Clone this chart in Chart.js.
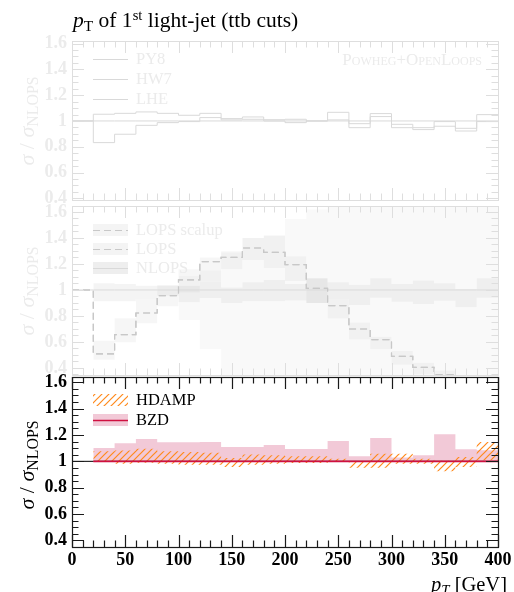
<!DOCTYPE html>
<html><head><meta charset="utf-8">
<script src="https://cdn.jsdelivr.net/npm/chart.js@4.4.1/dist/chart.umd.min.js"></script>
<style>
html,body{margin:0;padding:0;background:#fff;}
#wrap{position:relative;width:514px;height:592px;overflow:hidden;font-family:"Liberation Serif",serif;color:#000;}
canvas{position:absolute;left:0;}
.t{position:absolute;white-space:nowrap;line-height:1;transform:translateY(-50%);}
.sb{font-size:0.72em;position:relative;top:0.28em;}
.sp{font-size:0.68em;position:relative;top:-0.5em;}
.yt{position:absolute;white-space:nowrap;line-height:1;transform:translate(-50%,-50%) rotate(-90deg);font-size:22px;}
.f{color:#ebebeb;}
.sc{font-variant:small-caps;}
</style></head><body>
<div id="wrap">
<canvas id="c1" width="514" height="212" style="top:0px"></canvas>
<canvas id="c2" width="514" height="185" style="top:196px"></canvas>
<canvas id="c3" width="514" height="222" style="top:370px"></canvas>

<div class="t" style="left:73px;top:21px;font-size:21.5px"><i>p</i><span class="sb">T</span> of 1<span class="sp">st</span> light-jet (ttb cuts)</div>

<div class="yt f" style="left:27px;top:121px"><i>σ</i> / <i>σ</i><span class="sb">NLOPS</span></div>
<div class="yt f" style="left:27px;top:291px"><i>σ</i> / <i>σ</i><span class="sb">NLOPS</span></div>
<div class="yt" style="left:27px;top:465px"><i>σ</i> / <i>σ</i><span class="sb">NLOPS</span></div>

<div class="t f" style="left:136px;top:58.5px;font-size:16.5px">PY8</div>
<div class="t f" style="left:136px;top:78.5px;font-size:16.5px">HW7</div>
<div class="t f" style="left:136px;top:98.5px;font-size:16.5px">LHE</div>
<div class="t f sc" style="right:32px;top:58.5px;font-size:17px">Powheg+OpenLoops</div>

<div class="t f" style="left:136px;top:230px;font-size:16.5px">LOPS scalup</div>
<div class="t f" style="left:136px;top:249px;font-size:16.5px">LOPS</div>
<div class="t f" style="left:136px;top:268px;font-size:16.5px">NLOPS</div>

<div class="t" style="left:136px;top:400px;font-size:16.5px">HDAMP</div>
<div class="t" style="left:136px;top:420px;font-size:16.5px">BZD</div>

<div class="t" style="right:7px;top:584px;font-size:20.5px"><i>p<span class="sb">T</span></i> [GeV]</div>
</div>
<script>
// ---------- data ----------
const binLo = [0,20,40,60,80,100,120,140,160,180,200,220,240,260,280,300,320,340,360,380];
const binHi = 400;
const xTickValues = [0,50,100,150,200,250,300,350,400];
const yTickValues = [0.4,0.6,0.8,1,1.2,1.4,1.6];

// panel 1 : generator ratios
const py8 = [1,1,1,1,1,1,1,1,1,1,1,1,1,1,1,1,1,1,1,1];
const hw7 = [1,1.052,1.059,1.070,1.059,1.044,1.059,1.018,1.031,1.010,1.013,1.000,1.067,0.979,1.057,0.974,0.948,0.995,0.943,1.049];
const lhe = [1,0.832,0.897,0.966,0.987,0.995,1.026,1.008,1.013,1.000,0.987,1.000,1.008,0.948,1.034,0.948,0.933,0.959,0.922,0.995];

// panel 2 : LOPS / NLOPS
const nlops = [1,1,1,1,1,1,1,1,1,1,1,1,1,1,1,1,1,1,1,1];
const lops = [1,0.508,0.656,0.823,0.956,1.077,1.218,1.251,1.323,1.290,1.195,1.013,0.879,0.700,0.618,0.490,0.405,0.350,0.300,0.270];
const lopsScalup = [1,0.508,0.656,0.823,0.956,1.077,1.218,1.251,1.323,1.290,1.195,1.013,0.879,0.700,0.618,0.490,0.405,0.350,0.300,0.270];
const nlopsBandLo = [null,0.913,0.913,0.930,0.956,0.905,0.938,0.900,0.913,0.913,0.920,0.900,0.930,0.885,0.940,0.910,0.892,0.918,0.867,0.940];
const nlopsBandHi = [null,1.052,1.046,1.033,1.033,1.033,1.067,1.020,1.059,1.077,1.046,1.090,1.060,1.040,1.090,1.046,1.072,1.052,1.008,1.090];
const lopsBandLo = [null,0.464,0.598,0.744,0.875,0.980,1.070,1.160,1.230,1.170,1.070,0.900,0.780,0.620,0.545,0.425,0.350,0.300,0.260,0.220];
const lopsBandHi = [null,0.610,0.782,0.931,1.038,1.160,1.250,1.290,1.400,1.420,1.260,1.090,0.930,0.750,0.640,0.530,0.440,0.380,0.340,0.310];
const scalupBandLo = [null,null,null,null,null,0.770,0.546,0.200,0.200,0.200,0.200,0.200,0.200,0.200,0.200,0.200,0.200,0.200,0.200,0.200];
const scalupBandHi = [null,null,null,null,null,1.110,1.150,1.300,1.400,1.420,1.546,1.620,1.800,1.800,1.800,1.800,1.800,1.800,1.800,1.800];

// panel 3 : HDAMP / BZD
const refLine = [1,1,1,1,1,1,1,1,1,1,1,1,1,1,1,1,1,1,1,1];
const bzd = [null,1,1,1,1,1,1,1,1,1,1,1,1,1,1,1,1,1,1,1];
const bzdBandLo = [null,1,1,1,1,1,1,1,1,1,1,1,1,1,1,1,1,1,1,1];
const bzdBandHi = [null,1.101,1.137,1.169,1.144,1.144,1.147,1.109,1.109,1.124,1.093,1.093,1.154,1.038,1.177,1.030,1.046,1.205,1.091,1.084];
const hdampLo = [null,1.000,0.982,0.990,0.982,0.975,0.975,0.957,0.975,0.982,0.987,0.987,0.995,0.952,0.952,0.982,0.982,0.925,0.957,1.008];
const hdampHi = [null,1.076,1.083,1.096,1.076,1.071,1.066,1.025,1.051,1.046,1.038,1.038,1.020,1.000,1.058,1.058,1.020,1.005,1.033,1.147];

// ---------- helpers ----------
const pts = arr => { const o = binLo.map((x,i)=>({x:x, y:arr[i]})); o.push({x:binHi, y:arr[arr.length-1]}); return o; };
const line = (arr,color,w,dash,order) => ({data:pts(arr),borderColor:color,borderWidth:w,borderDash:dash||[],stepped:true,fill:false,pointRadius:0,order:order});
const edge = (arr,order) => ({data:pts(arr),borderColor:'rgba(0,0,0,0)',borderWidth:0,stepped:true,fill:false,pointRadius:0,order:order});
const band = (arr,target,bg,order) => ({data:pts(arr),borderColor:'rgba(0,0,0,0)',borderWidth:0,stepped:true,fill:target,backgroundColor:bg,pointRadius:0,order:order});

const FAINT_TXT = '#ebebeb', FAINT_FRAME = '#dedede', FAINT_LINE = '#d9d9d9', FAINT_DASH = '#c8c8c8';
const BAND_BIG = 'rgba(0,0,0,0.024)', BAND_LOPS = 'rgba(0,0,0,0.036)', BAND_NLOPS = 'rgba(0,0,0,0.045)';
const PINK = '#f2c9d7', RED = '#cf1040', ORANGE = '#ff8a1c';

function framePlugin(color, lw){
  return {id:'frame', afterDraw(chart){
    const {ctx, chartArea:a} = chart; const xs = chart.scales.x, ys = chart.scales.y;
    ctx.save(); ctx.strokeStyle = color; ctx.lineWidth = lw; ctx.beginPath();
    for (let v = xs.min; v <= xs.max; v += 10){
      const p = Math.round(xs.getPixelForValue(v)) + 0.5; const L = (v % 50 === 0) ? 12 : 6.5;
      ctx.moveTo(p, a.bottom); ctx.lineTo(p, a.bottom - L);
      ctx.moveTo(p, a.top); ctx.lineTo(p, a.top + L);
    }
    for (let k = Math.ceil(ys.min*20); k <= Math.floor(ys.max*20); k++){
      const p = Math.round(ys.getPixelForValue(k/20)) + 0.5; const L = (k % 4 === 0) ? 12 : 6.5;
      ctx.moveTo(a.left, p); ctx.lineTo(a.left + L, p);
      ctx.moveTo(a.right, p); ctx.lineTo(a.right - L, p);
    }
    ctx.stroke();
    ctx.strokeRect(Math.round(a.left)+0.5, Math.round(a.top)+0.5, Math.round(a.right-a.left), Math.round(a.bottom-a.top));
    ctx.restore();
  }};
}

function legendPlugin(canvasTop, items){
  return {id:'legsym', afterDraw(chart){
    const ctx = chart.ctx; ctx.save();
    items.forEach(it => {
      const cy = it.y - canvasTop;
      if (it.box){ ctx.fillStyle = it.box; ctx.fillRect(93, cy - 6, 35, 12); }
      if (it.line){ ctx.strokeStyle = it.line; ctx.lineWidth = it.lw || 1; ctx.setLineDash(it.dash || []);
        ctx.beginPath(); ctx.moveTo(93, Math.round(cy)+0.5); ctx.lineTo(128, Math.round(cy)+0.5); ctx.stroke(); ctx.setLineDash([]); }
    });
    ctx.restore();
  }};
}

const tickFont = {family:'Liberation Serif', size:18, weight:'bold'};
function opts(yMin, yMax, padTop, padBottom, showX, faint){
  return {
    responsive:false, animation:false, events:[],
    layout:{padding:{left:0, right:16, top:padTop, bottom:padBottom}},
    plugins:{legend:{display:false}, tooltip:{enabled:false}},
    elements:{point:{radius:0}, line:{tension:0}},
    scales:{
      x:{type:'linear', min:0, max:400, display:showX, grid:{display:false, drawTicks:false}, border:{display:false},
         afterBuildTicks:s=>{ s.ticks = xTickValues.map(v=>({value:v})); },
         afterFit:s=>{ if (showX) s.height = 45; s.paddingLeft = 0; s.paddingRight = 0; s.paddingTop = 0; s.paddingBottom = 0; },
         ticks:{autoSkip:false, maxRotation:0, padding:3, color:'#000', font:tickFont, callback:v=>String(v)}},
      y:{type:'linear', min:yMin, max:yMax, grid:{display:false, drawTicks:false}, border:{display:false},
         afterBuildTicks:s=>{ s.ticks = yTickValues.filter(v=>v>=yMin && v<=yMax).map(v=>({value:v})); },
         afterFit:s=>{ s.width = 72; s.paddingTop = 0; s.paddingBottom = 0; s.paddingLeft = 0; s.paddingRight = 0; },
         ticks:{autoSkip:false, padding:5, color: faint ? FAINT_TXT : '#000', font:tickFont, callback:v=> v===1 ? '1' : v.toFixed(1)}}
    }
  };
}

// ---------- panel 1 ----------
new Chart(document.getElementById('c1'), {
  type:'line',
  data:{datasets:[
    line(py8, FAINT_LINE, 1, [], 0),
    line(hw7, FAINT_LINE, 1, [], 1),
    line(lhe, FAINT_LINE, 1, [], 2)
  ]},
  options: opts(0.387, 1.62, 41, 12, false, true),
  plugins:[framePlugin(FAINT_FRAME, 1), legendPlugin(0, [
    {y:58.5, line:FAINT_LINE}, {y:78.5, line:FAINT_LINE}, {y:98.5, line:FAINT_LINE}])]
});

// ---------- panel 2 ----------
new Chart(document.getElementById('c2'), {
  type:'line',
  data:{datasets:[
    line(nlops, FAINT_LINE, 1, [], 2),
    line(lops, FAINT_DASH, 1.2, [7,4], 0),
    line(lopsScalup, FAINT_DASH, 1.2, [7,4], 1),
    edge(nlopsBandLo, 6),
    band(nlopsBandHi, 3, BAND_NLOPS, 5),
    edge(lopsBandLo, 8),
    band(lopsBandHi, 5, BAND_LOPS, 7),
    edge(scalupBandLo, 10),
    band(scalupBandHi, 7, BAND_BIG, 9)
  ]},
  options: opts(0.346, 1.646, 10, 6, false, true),
  plugins:[framePlugin(FAINT_FRAME, 1), legendPlugin(196, [
    {y:230, box:'#f4f4f4', line:FAINT_DASH, dash:[7,4]},
    {y:249, box:'#f4f4f4', line:FAINT_DASH, dash:[7,4]},
    {y:268, box:'#eeeeee', line:FAINT_LINE}])]
});

// ---------- panel 3 ----------
const c3 = document.getElementById('c3');
const tile = document.createElement('canvas'); tile.width = 7; tile.height = 7;
const tg = tile.getContext('2d'); tg.strokeStyle = ORANGE; tg.lineWidth = 1.2; tg.beginPath();
tg.moveTo(-1, 8); tg.lineTo(8, -1); tg.moveTo(-2, 2); tg.lineTo(2, -2); tg.moveTo(5, 9); tg.lineTo(9, 5); tg.stroke();
const hatch = c3.getContext('2d').createPattern(tile, 'repeat');

new Chart(c3, {
  type:'line',
  data:{datasets:[
    line(bzd, RED, 1.6, [], 0),
    line(refLine, '#000', 1, [], 1),
    edge(hdampLo, 3),
    band(hdampHi, 2, hatch, 2),
    edge(bzdBandLo, 5),
    band(bzdBandHi, 4, PINK, 4)
  ]},
  options: opts(0.35, 1.64, 7, 0, true, false),
  plugins:[framePlugin('#1a1a1a', 1.2), legendPlugin(370, [
    {y:400, box:hatch},
    {y:420, box:PINK, line:RED, lw:1.6}])]
});
</script>
</body></html>
